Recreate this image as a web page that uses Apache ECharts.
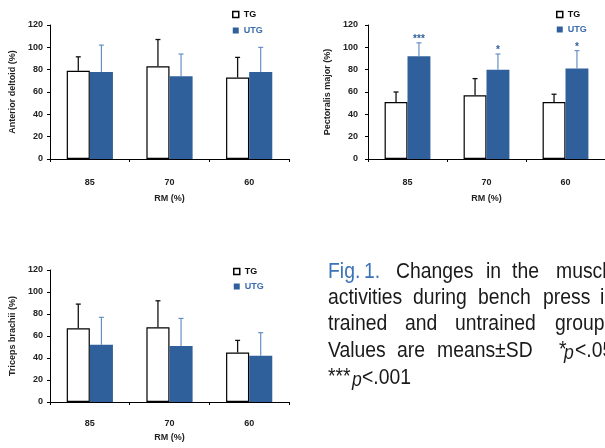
<!DOCTYPE html>
<html><head><meta charset="utf-8">
<script src="https://cdn.jsdelivr.net/npm/echarts@6/dist/echarts.min.js"></script>
<style>html,body{margin:0;padding:0;background:#fff}#c{width:605px;height:448px}</style>
</head><body><div id="c"></div>
<script>
var categories = ['85', '70', '60'];
var yTicks = [0, 20, 40, 60, 80, 100, 120];
// Anterior deltoid
var adTG = [79, 83, 73];
var adTGsd = [12.5, 24, 18];
var adUTG = [78, 74, 78];
var adUTGsd = [24, 20, 22];
// Pectoralis major
var pmTG = [51, 57, 51];
var pmTGsd = [9, 15, 7];
var pmUTG = [92, 80, 81];
var pmUTGsd = [12, 14, 16];
var pmSig = ['***', '*', '*'];
// Triceps brachii
var tbTG = [67, 68, 45];
var tbTGsd = [22, 24, 11];
var tbUTG = [52, 51, 42];
var tbUTGsd = [25, 25, 21];

var BLUE = '#30609b';
var EBLUE = '#5b87c0';
var FONT = 'Liberation Sans';
var BARW = 0.29;

var chart = echarts.init(document.getElementById('c'), null, {renderer: 'canvas'});

var grids = [
  {left: 50, top: 25, width: 239, height: 134},
  {left: 368, top: 25, width: 240, height: 134},
  {left: 50, top: 270, width: 239, height: 132}
];
var names = ['Anterior deltoid (%)', 'Pectoralis major (%)', 'Triceps brachii (%)'];
var labelMargins = [19, 19, 17];
var nameGapsX = [35, 35, 31];

var xAxes = [], yAxes = [], series = [], legends = [];
var legendPos = [[232, 10], [556, 10], [233, 267]];
var legendGap = [7, 6, 6];

function errRender(side, color, sig, lw) {
  return function (params, api) {
    var i = api.value(0), m = api.value(1), s = api.value(2);
    var base = api.coord([i, m]);
    var top = api.coord([i, m + s]);
    var bw = api.size([1, 0])[0];
    var x = base[0] + side * bw * BARW / 2;
    var ch = [
      {type: 'line', shape: {x1: x, y1: base[1], x2: x, y2: top[1]}, style: {stroke: color, lineWidth: lw}},
      {type: 'line', shape: {x1: x - 2.5, y1: top[1], x2: x + 2.5, y2: top[1]}, style: {stroke: color, lineWidth: lw}}
    ];
    if (sig && sig[params.dataIndex]) {
      ch.push({type: 'text', x: x, y: top[1] + 1.5, style: {text: sig[params.dataIndex], fill: BLUE, font: 'bold 10px ' + FONT, align: 'center', verticalAlign: 'bottom'}});
    }
    return {type: 'group', children: ch};
  };
}

var panelData = [
  [adTG, adTGsd, adUTG, adUTGsd, null],
  [pmTG, pmTGsd, pmUTG, pmUTGsd, pmSig],
  [tbTG, tbTGsd, tbUTG, tbUTGsd, null]
];

for (var g = 0; g < 3; g++) {
  xAxes.push({
    gridIndex: g, type: 'category', data: categories,
    name: 'RM (%)', nameLocation: 'middle', nameGap: nameGapsX[g],
    nameTextStyle: {fontFamily: FONT, fontWeight: 'bold', fontSize: 9, color: '#222'},
    axisLine: {lineStyle: {color: '#000', width: 1}},
    axisTick: {show: true, length: 3, lineStyle: {color: '#000'}},
    axisLabel: {fontFamily: FONT, fontWeight: 'bold', fontSize: 9, color: '#222', margin: labelMargins[g]}
  });
  yAxes.push({
    gridIndex: g, type: 'value', min: 0, max: 120, interval: 20,
    name: names[g], nameLocation: 'middle', nameGap: g === 1 ? 36 : 33,
    nameTextStyle: {fontFamily: FONT, fontWeight: 'bold', fontSize: 9, color: '#222'},
    axisLine: {show: true, lineStyle: {color: '#000', width: 1}},
    axisTick: {show: true, length: 3, lineStyle: {color: '#000'}},
    splitLine: {show: false},
    axisLabel: {fontFamily: FONT, fontWeight: 'bold', fontSize: 9, color: '#222', margin: g === 1 ? 10 : 7,
      formatter: function (v) { return yTicks.indexOf(v) >= 0 ? String(v) : ''; }}
  });
  var d = panelData[g];
  series.push({
    name: 'TG', type: 'bar', xAxisIndex: g, yAxisIndex: g, data: d[0],
    barWidth: (BARW * 100) + '%', barGap: '0%',
    itemStyle: {color: '#fff', borderColor: '#000', borderWidth: 1.2}, z: 2
  });
  series.push({
    name: 'UTG', type: 'bar', xAxisIndex: g, yAxisIndex: g, data: d[2],
    barWidth: (BARW * 100) + '%', barGap: '0%',
    itemStyle: {color: BLUE}, z: 2
  });
  series.push({
    type: 'custom', xAxisIndex: g, yAxisIndex: g, z: 3,
    data: d[0].map(function (v, i) { return [i, v, d[1][i]]; }),
    renderItem: errRender(-1, '#111', null, 1.3)
  });
  series.push({
    type: 'custom', xAxisIndex: g, yAxisIndex: g, z: 3,
    data: d[2].map(function (v, i) { return [i, v, d[3][i]]; }),
    renderItem: errRender(1, EBLUE, d[4], 1.1)
  });
  legends.push({
    left: legendPos[g][0], top: legendPos[g][1], orient: 'vertical', padding: 0,
    itemWidth: 6, itemHeight: 6, itemGap: legendGap[g], icon: 'rect', selectedMode: false,
    textStyle: {fontFamily: FONT, fontWeight: 'bold', fontSize: 9},
    data: [
      {name: 'TG', itemStyle: {color: '#fff', borderColor: '#000', borderWidth: 1.5}, textStyle: {color: '#111'}},
      {name: 'UTG', itemStyle: {color: BLUE}, textStyle: {color: '#3a6cb0'}}
    ]
  });
}

// caption words: [text, left, line middle y, colour, font]
var capFont = '22px ' + FONT;
var itFont = 'italic 20px ' + FONT;
var CAP_SX = 0.88;
var K = '#1a1a1a', FB = '#3b73b9';
var caption = [
  ['Fig.', 328, 272, FB, capFont], ['1.', 364, 272, FB, capFont],
  ['Changes', 396, 272, K, capFont], ['in', 486, 272, K, capFont],
  ['the', 512, 272, K, capFont], ['muscle', 556, 272, K, capFont],
  ['activities', 328, 298, K, capFont], ['during', 413, 298, K, capFont],
  ['bench', 478, 298, K, capFont], ['press', 543, 298, K, capFont],
  ['in', 600, 298, K, capFont],
  ['trained', 328, 324, K, capFont], ['and', 405, 324, K, capFont],
  ['untrained', 455, 324, K, capFont], ['groups.', 555, 324, K, capFont],
  ['Values', 328, 351, K, capFont], ['are', 397, 351, K, capFont],
  ['means\u00b1SD', 437, 351, K, capFont], ['*', 559, 350, K, capFont],
  ['p', 564, 353, K, itFont], ['<.05,', 575, 351, K, capFont],
  ['***', 328, 377, K, capFont],
  ['p', 352, 380, K, itFont], ['<.001', 362, 378, K, capFont]
];

var graphics = caption.map(function (c) {
  return {type: 'text', x: c[1], y: c[2], scaleX: CAP_SX, silent: true,
    style: {text: c[0], fill: c[3], font: c[4], align: 'left', verticalAlign: 'middle'}};
});

chart.setOption({
  animation: false,
  backgroundColor: '#fff',
  grid: grids,
  xAxis: xAxes,
  yAxis: yAxes,
  legend: legends,
  series: series,
  graphic: graphics
});
</script>
</body></html>
